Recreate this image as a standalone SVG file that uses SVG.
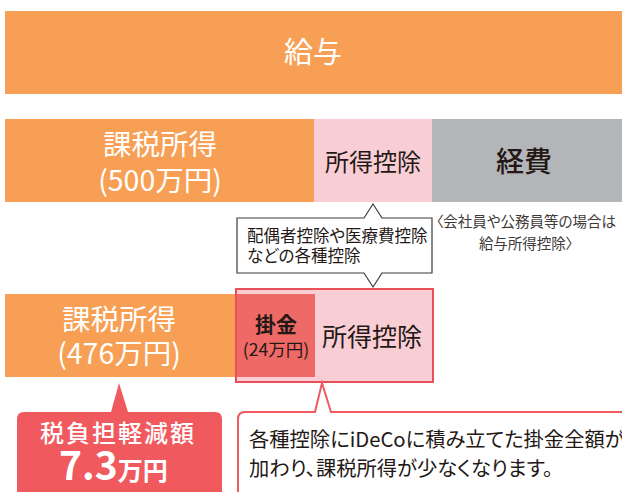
<svg xmlns="http://www.w3.org/2000/svg" width="622" height="492" viewBox="0 0 622 492">
<style>
text{font-family:"Noto Sans CJK JP","Noto Sans",sans-serif;font-feature-settings:"palt";}
.w{fill:#ffffff;}
.d{fill:#231815;}
.g{fill:#3e3a39;}
.mid{text-anchor:middle;}
.orange{fill:#F7A055;}
.pink{fill:#F9CDD4;}
.gray{fill:#B4B5B8;}
.salmon{fill:#EF6A66;}
.red{fill:#F05A5F;}
</style>
<rect width="622" height="492" fill="#ffffff"/>
<g id="kyuyo">
<rect class="orange" x="5" y="11" width="617" height="83"/>
<text class="w mid" x="313" y="63" font-size="29">給与</text>
</g>
<g id="kazei500">
<rect class="orange" x="5" y="119" width="310" height="83"/>
<text class="w mid" x="160" y="155" font-size="28.5">課税所得</text>
<text class="w mid" x="160" y="191" font-size="28.5">(500万円)</text>
</g>
<g id="kojo1">
<rect class="pink" x="314" y="119" width="119" height="83"/>
<text class="d mid" x="373" y="171" font-size="24">所得控除</text>
</g>
<g id="keihi">
<rect class="gray" x="432" y="119" width="190" height="83"/>
<text class="d mid" x="524" y="172" font-size="28" font-weight="500">経費</text>
</g>
<g id="note">
<text class="g mid" x="526" y="227" font-size="14.5">〈会社員や公務員等の場合は</text>
<text class="g mid" x="526" y="249" font-size="14.5">給与所得控除〉</text>
</g>
<g id="callout1">
<path d="M237,218 H364 L373,204 L382,218 H432 V273 H382 L373,287 L364,273 H237 Z" fill="#ffffff" stroke="#3a3a3a" stroke-width="1.2"/>
<text class="d" x="247" y="242" font-size="16.5">配偶者控除や医療費控除</text>
<text class="d" x="247" y="262" font-size="16.5">などの各種控除</text>
</g>
<g id="kazei476">
<rect class="orange" x="5" y="294" width="232" height="83"/>
<text class="w mid" x="119" y="330" font-size="28.5">課税所得</text>
<text class="w mid" x="119" y="364" font-size="28.5">(476万円)</text>
</g>
<g id="kojo2">
<rect class="pink" x="236" y="289" width="197" height="93" stroke="#E9505A" stroke-width="2"/>
<rect class="salmon" x="237" y="294" width="78" height="83"/>
<text class="d mid" x="276" y="332" font-size="21" font-weight="bold">掛金</text>
<text class="d mid" x="276" y="356" font-size="17.5">(24万円)</text>
<text class="d mid" x="372" y="346" font-size="25">所得控除</text>
</g>
<g id="genzei">
<path class="red" d="M24,412 H111 L119,383 L128,412 H215 Q222,412 222,419 V500 H17 V419 Q17,412 24,412 Z"/>
<text class="w mid" x="118" y="442" font-size="24" font-weight="500" letter-spacing="2">税負担軽減額</text>
<text class="w" x="59" y="480" font-size="39" font-weight="bold">7.3<tspan font-size="25">万円</tspan></text>
</g>
<g id="callout2">
<path d="M245,412 H315 L322,383 L331,412 H630 V500 H238 V419 Q238,412 245,412 Z" fill="#ffffff" stroke="#EE5A60" stroke-width="2"/>
<text class="d" x="249" y="447" font-size="20.3">各種控除にiDeCoに積み立てた掛金全額が</text>
<text class="d" x="249" y="476" font-size="20.3">加わり、課税所得が少なくなります。</text>
</g>
<g id="connectors"></g>
</svg>
